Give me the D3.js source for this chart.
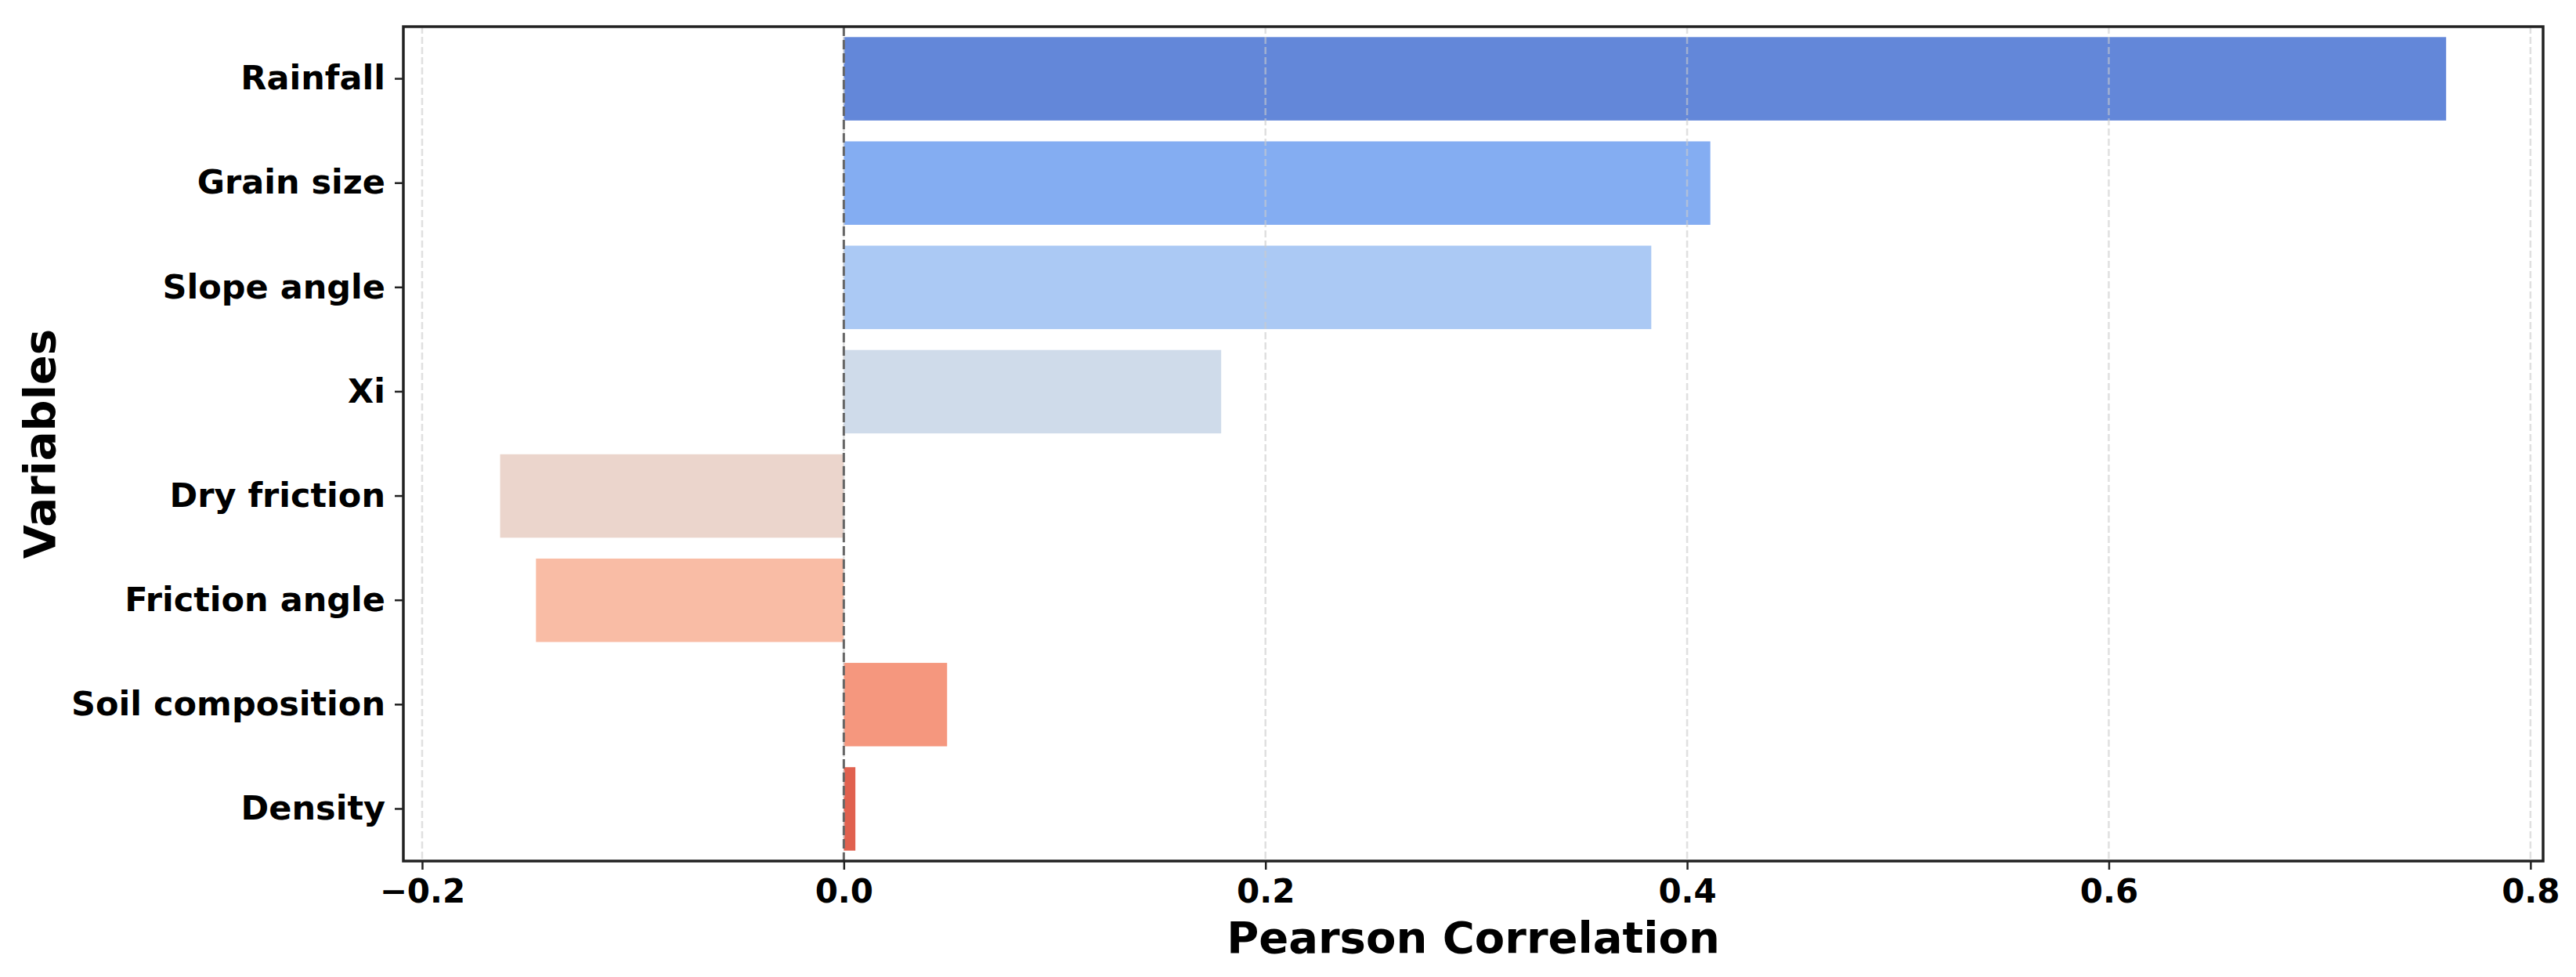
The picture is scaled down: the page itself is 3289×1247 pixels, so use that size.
<!DOCTYPE html>
<html>
<head>
<meta charset="utf-8">
<script src="https://cdn.jsdelivr.net/npm/d3@7"></script>
<style>
  html, body { margin: 0; padding: 0; background: #ffffff; }
  svg { display: block; }
  text { font-family: "DejaVu Sans", sans-serif; font-weight: bold; fill: #000; }
</style>
</head>
<body>
<svg id="chart" width="3289" height="1247"></svg>
<script>
// ---- data ----
const categories = ["Rainfall", "Grain size", "Slope angle", "Xi", "Dry friction", "Friction angle", "Soil composition", "Density"];
const correlations = [0.760, 0.411, 0.383, 0.179, -0.163, -0.146, 0.049, 0.0055];
const barColors = ["#6387d9", "#84adf2", "#abc9f4", "#cfdbea", "#ebd5cc", "#f9bca5", "#f5977e", "#e0614f"];
const xTickValues = [-0.2, 0.0, 0.2, 0.4, 0.6, 0.8];
const xLabel = "Pearson Correlation";
const yLabel = "Variables";

// ---- layout ----
const W = 3289, H = 1247;
const plot = { left: 515, right: 3247, top: 34, bottom: 1099 };

const svg = d3.select("#chart");
svg.append("rect").attr("width", W).attr("height", H).attr("fill", "#fff");

const x = d3.scaleLinear().domain([-0.2089, 0.806]).range([plot.left, plot.right]);
const y = d3.scaleBand().domain(categories).range([plot.top, plot.bottom])
  .paddingInner(0.2).paddingOuter(0.1);

const rows = categories.map((c, i) => ({ cat: c, v: correlations[i], color: barColors[i] }));

// bars
svg.append("g").selectAll("rect").data(rows).join("rect")
  .attr("x", d => x(Math.min(0, d.v)))
  .attr("width", d => Math.abs(x(d.v) - x(0)))
  .attr("y", d => y(d.cat))
  .attr("height", y.bandwidth())
  .attr("fill", d => d.color);

// vertical grid lines (drawn above bars, light & dashed)
svg.append("g").selectAll("line").data(xTickValues).join("line")
  .attr("x1", d => x(d)).attr("x2", d => x(d))
  .attr("y1", plot.top).attr("y2", plot.bottom)
  .attr("stroke", "#cccccc")
  .attr("stroke-opacity", 0.6)
  .attr("stroke-width", 2.5)
  .attr("stroke-dasharray", "9,4");

// zero reference line
svg.append("line")
  .attr("x1", x(0)).attr("x2", x(0))
  .attr("y1", plot.top).attr("y2", plot.bottom)
  .attr("stroke", "#666666")
  .attr("stroke-width", 3)
  .attr("stroke-dasharray", "12,5");

// x axis
const xAxis = d3.axisBottom(x).tickValues(xTickValues)
  .tickFormat(d3.format(".1f")).tickSize(11).tickPadding(12);
const gx = svg.append("g").attr("transform", `translate(0,${plot.bottom})`).call(xAxis);
gx.select(".domain").remove();
gx.selectAll(".tick line").attr("stroke", "#222").attr("stroke-width", 2.5);
gx.selectAll(".tick text").attr("font-size", 42).attr("font-family", "DejaVu Sans").attr("font-weight", "bold").attr("fill", "#000");

// y axis
const yAxis = d3.axisLeft(y).tickSize(11).tickPadding(12);
const gy = svg.append("g").attr("transform", `translate(${plot.left},0)`).call(yAxis);
gy.select(".domain").remove();
gy.selectAll(".tick line").attr("stroke", "#222").attr("stroke-width", 2.5);
gy.selectAll(".tick text").attr("font-size", 43).attr("font-family", "DejaVu Sans").attr("font-weight", "bold").attr("fill", "#000");

// frame (spines)
svg.append("rect")
  .attr("x", plot.left).attr("y", plot.top)
  .attr("width", plot.right - plot.left).attr("height", plot.bottom - plot.top)
  .attr("fill", "none").attr("stroke", "#222").attr("stroke-width", 3.5);

// axis labels
svg.append("text")
  .attr("x", (plot.left + plot.right) / 2).attr("y", 1216)
  .attr("text-anchor", "middle").attr("font-size", 56)
  .text(xLabel);

svg.append("text")
  .attr("transform", `translate(70,${(plot.top + plot.bottom) / 2}) rotate(-90)`)
  .attr("text-anchor", "middle").attr("font-size", 56)
  .text(yLabel);
</script>
</body>
</html>
